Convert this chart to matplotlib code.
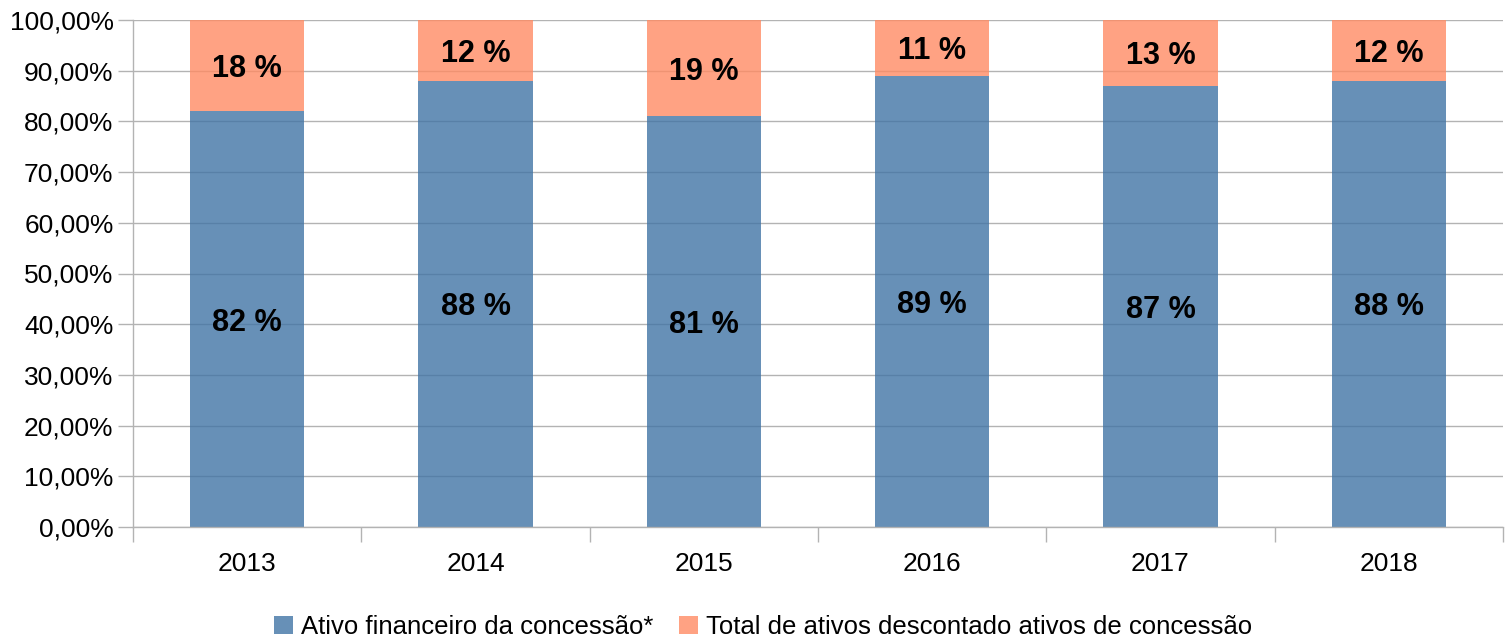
import matplotlib.pyplot as plt
import numpy as np
from matplotlib.ticker import FixedLocator

plt.rcParams['font.family'] = ['Liberation Sans', 'DejaVu Sans']

anos = ["2013", "2014", "2015", "2016", "2017", "2018"]
ativo_fin = [82, 88, 81, 89, 87, 88]
total_desc = [18, 12, 19, 11, 13, 12]
rotulo_fin = ["82 %", "88 %", "81 %", "89 %", "87 %", "88 %"]
rotulo_desc = ["18 %", "12 %", "19 %", "11 %", "13 %", "12 %"]

azul = "#4174a5"
salmao = "#ff8b64"
cinza = "#b3b3b3"

fig = plt.figure(figsize=(15.05, 6.41), dpi=100)
ax = fig.add_axes([133/1505, 1 - 527/641, (1503-133)/1505, (527-20)/641])

x = np.arange(len(anos))
b1 = ax.bar(x, ativo_fin, width=0.5, color=azul, alpha=0.8, zorder=2,
            label="Ativo financeiro da concessão*")
b2 = ax.bar(x, total_desc, width=0.5, bottom=ativo_fin, color=salmao, alpha=0.8,
            zorder=2, label="Total de ativos descontado ativos de concessão")

for i in range(len(anos)):
    ax.text(x[i], ativo_fin[i] / 2, rotulo_fin[i], ha="center", va="center_baseline",
            fontsize=22, fontweight="bold", zorder=3)
    ax.text(x[i], ativo_fin[i] + total_desc[i] / 2, rotulo_desc[i], ha="center",
            va="center_baseline", fontsize=22, fontweight="bold", zorder=3)

ax.set_xlim(-0.5, len(anos) - 0.5)
ax.set_ylim(0, 100)
ax.set_yticks(np.arange(0, 101, 10))
ax.set_yticklabels([f"{v},00%" for v in range(0, 101, 10)], fontsize=19)
ax.yaxis.grid(True, color=cinza, linewidth=1, zorder=1)
ax.set_axisbelow(True)

ax.set_xticks(x)
ax.set_xticklabels(anos, fontsize=19)
ax.tick_params(axis="x", which="major", length=0, pad=18)
ax.xaxis.set_minor_locator(FixedLocator(np.arange(-0.5, len(anos), 1.0)))
ax.tick_params(axis="x", which="minor", length=11, color=cinza, width=1)
ax.tick_params(axis="y", length=11, color=cinza, width=1, pad=3)

for s in ["top", "right"]:
    ax.spines[s].set_visible(False)
for s in ["left", "bottom"]:
    ax.spines[s].set_color(cinza)
    ax.spines[s].set_linewidth(1)

fig.legend(handles=[b1, b2], loc="center", bbox_to_anchor=(763/1505, 1 - 627/641),
           ncol=2, frameon=False, fontsize=18.5, handlelength=0.75, handleheight=0.75,
           handletextpad=0.3, columnspacing=1.0)

fig.savefig("out.png", dpi=100)
